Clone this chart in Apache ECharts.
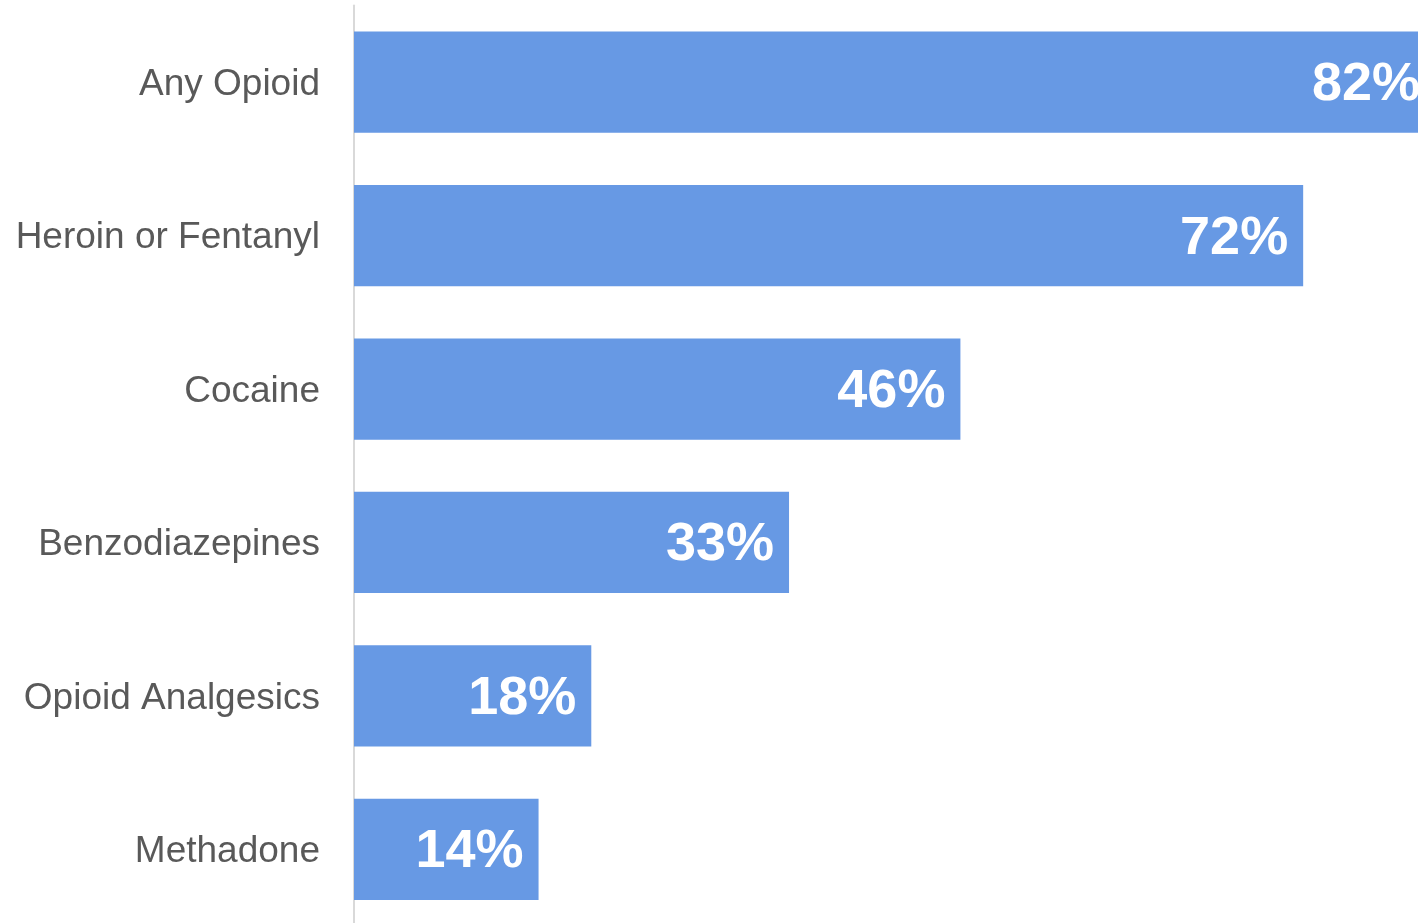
<!DOCTYPE html>
<html>
<head>
<meta charset="utf-8">
<script src="https://cdn.jsdelivr.net/npm/echarts@6/dist/echarts.min.js"></script>
<style>html,body{margin:0;padding:0;background:#fff;overflow:hidden}#c{width:1440px;height:932px}</style>
</head>
<body>
<div id="c"></div>
<script>
const categories = ["Any Opioid", "Heroin or Fentanyl", "Cocaine", "Benzodiazepines", "Opioid Analgesics", "Methadone"];
const values = [82, 72, 46, 33, 18, 14];

const chart = echarts.init(document.getElementById('c'), null, {renderer: 'canvas'});
chart.setOption({
  animation: false,
  backgroundColor: '#ffffff',
  grid: {left: 354, top: 5.5, width: 1081, height: 920.5, containLabel: false},
  xAxis: {
    type: 'value', min: 0, max: 82,
    show: false
  },
  yAxis: {
    type: 'category', data: categories, inverse: true,
    axisLine: {show: true, lineStyle: {color: '#d9d9d9', width: 2}},
    axisTick: {show: false},
    axisLabel: {
      margin: 34,
      formatter: function (v) { return '{a|' + v + '}'; },
      rich: {a: {color: '#595959', fontSize: 37, fontFamily: 'Liberation Sans', padding: [5, 0, 0, 0]}}
    }
  },
  series: [{
    type: 'bar', data: values, barCategoryGap: '34%',
    itemStyle: {color: '#6799e4'},
    label: {
      show: true, position: 'insideRight', distance: 15, offset: [0, 3],
      formatter: '{c}%', color: '#ffffff', fontWeight: 'bold',
      fontSize: 54, fontFamily: 'Liberation Sans'
    }
  }]
});
</script>
</body>
</html>
